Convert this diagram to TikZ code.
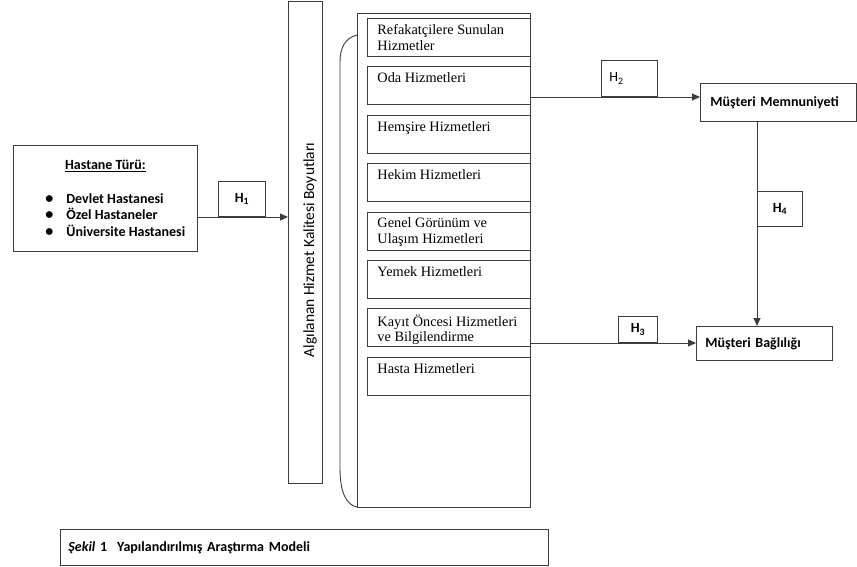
\documentclass[tikz,border=0pt]{standalone}
\usepackage{fontspec}
\setmainfont{Carlito}
\newfontfamily\timesfont{Liberation Serif}
\usetikzlibrary{arrows.meta, positioning}

\definecolor{lineg}{RGB}{60, 60, 60}
\newcommand{\srvtext}[1]{\parbox[c][38pt][t]{143pt}{\vspace*{6pt}\timesfont\fontsize{14.3}{15.5}\selectfont #1}}
\newcommand{\itemline}[1]{\makebox[120pt][l]{{\fontsize{16}{16}\selectfont\textbullet}\hspace{13pt}#1}}

\tikzset{
  box/.style={draw=lineg, line width=0.9pt, inner sep=0pt, anchor=north west},
  srvbox/.style={box, minimum width=163pt, minimum height=38pt},
  hbox/.style={draw=lineg, line width=0.9pt, inner sep=0pt, anchor=south west, font=\bfseries\fontsize{14}{16}\selectfont},
  resbox/.style={box, align=left, inner xsep=10pt, font=\bfseries\fontsize{14}{16}\selectfont},
  arr/.style={draw=lineg, line width=0.9pt, -{Triangle[length=8pt,width=7pt]}}
}

\begin{document}
\begin{tikzpicture}[x=1pt, y=-1pt]
  \useasboundingbox[fill=white] (0,0) rectangle (857,566);

  % hospital type
  \node[box, minimum width=184pt, minimum height=106pt, align=center,
        font=\bfseries\fontsize{14}{16.5}\selectfont] (hosp) at (13,145)
    {\underline{Hastane Türü:}\\[17pt]
     \itemline{Devlet Hastanesi}\\
     \itemline{Özel Hastaneler}\\
     \itemline{Üniversite Hastanesi}};

  % perceived quality
  \node[box, minimum width=34pt, minimum height=482pt] (dims) at (288,1) {};
  \node[rotate=90, font=\fontsize{15.5}{18}\selectfont] (dimstext) at (310,250)
    {Algılanan Hizmet Kalitesi Boyutları};

  \node[box, minimum width=173pt, minimum height=494pt] (outer) at (357,13) {};
  \draw[draw=lineg, line width=0.9pt] (357,35) .. controls (345,38) and (340,48) .. (340,62)
    -- (340,468) .. controls (340,494) and (347,505) .. (357,507);

  % service dimensions
  \node[srvbox] (refak) at (367,18) {\srvtext{Refakatçilere Sunulan\\Hizmetler}};
  \node[srvbox, below=9.5pt of refak] (oda) {\srvtext{Oda Hizmetleri}};
  \node[srvbox, below=9.5pt of oda] (hemsire) {\srvtext{Hemşire Hizmetleri}};
  \node[srvbox, below=9.5pt of hemsire] (hekim) {\srvtext{Hekim Hizmetleri}};
  \node[srvbox, below=9.5pt of hekim] (genel) {\srvtext{Genel Görünüm ve\\Ulaşım Hizmetleri}};
  \node[srvbox, below=9.5pt of genel] (yemek) {\srvtext{Yemek Hizmetleri}};
  \node[srvbox, below=9.5pt of yemek] (kayit) {\srvtext{Kayıt Öncesi Hizmetleri\\ve Bilgilendirme}};
  \node[srvbox, below=9.5pt of kayit] (hasta) {\srvtext{Hasta Hizmetleri}};

  % outcomes
  \node[resbox, minimum width=156pt, minimum height=38pt, text width=136pt] (memn) at (700,83)
    {\raisebox{-5pt}{Müşteri Memnuniyeti}};
  \node[resbox, minimum width=136pt, minimum height=34pt, text width=118pt, inner xsep=9pt] (bagl) at (696,326)
    {Müşteri Bağlılığı};

  % hypotheses
  \node[hbox, minimum width=47pt, minimum height=35pt] (h1) at (218,217) {H\textsubscript{1}};
  \node[hbox, minimum width=56pt, minimum height=36pt, font=\fontsize{14}{16}\selectfont] (h2) at (601,97)
    {\makebox[40pt][l]{H\textsubscript{2}}};
  \node[hbox, minimum width=39pt, minimum height=26pt] (h3) at (618,343) {H\textsubscript{3}};
  \node[hbox, minimum width=45pt, minimum height=35pt] (h4) at (757,227) {H\textsubscript{4}};

  \draw[arr] (hosp.east |- h1.south) -- (dims.west |- h1.south);
  \draw[arr] (outer.east |- h2.south) -- (memn.west |- h2.south);
  \draw[arr] (outer.east |- h3.south) -- (bagl.west |- h3.south);
  \draw[arr] (memn.south -| h4.west) -- (bagl.north -| h4.west);

  % caption
  \node[box, minimum width=488pt, minimum height=36pt, text width=472pt, inner xsep=8pt, align=left,
        font=\bfseries\fontsize{14}{16}\selectfont] (caption) at (60,529)
    {\textit{Şekil} 1\hspace{10pt}Yapılandırılmış Araştırma Modeli};
\end{tikzpicture}
\end{document}
